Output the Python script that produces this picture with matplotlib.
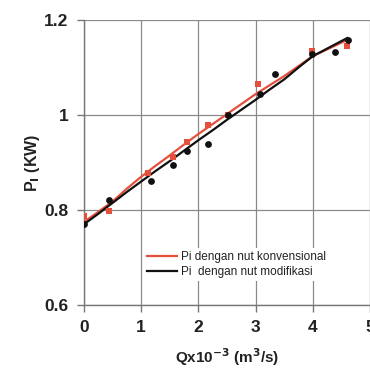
import matplotlib
matplotlib.use("Agg")
import matplotlib.pyplot as plt
from matplotlib.ticker import FixedLocator, FixedFormatter

# measured points (Q x 1e-3 m3/s, Pi kW)
q_konv = [0.0, 0.44, 1.12, 1.56, 1.80, 2.17, 2.51, 3.04, 3.99, 4.59]
p_konv = [0.787, 0.797, 0.877, 0.912, 0.944, 0.980, 1.000, 1.065, 1.135, 1.145]

q_mod = [0.0, 0.44, 1.17, 1.56, 1.80, 2.17, 2.51, 3.07, 3.34, 3.99, 4.38, 4.62]
p_mod = [0.770, 0.820, 0.862, 0.895, 0.925, 0.940, 1.001, 1.044, 1.086, 1.128, 1.132, 1.159]

# trend curves as drawn
q_line = [0.0, 0.25, 0.5, 0.75, 1.0, 1.25, 1.5, 1.75, 2.0, 2.25, 2.5, 2.75,
          3.0, 3.25, 3.5, 3.75, 4.0, 4.3, 4.6]
p_line_konv = [0.775, 0.796, 0.818, 0.845, 0.870, 0.893, 0.915, 0.938, 0.960,
               0.981, 1.002, 1.023, 1.044, 1.063, 1.082, 1.103, 1.124, 1.141, 1.158]
p_line_mod = [0.770, 0.792, 0.815, 0.838, 0.860, 0.882, 0.903, 0.925, 0.947,
              0.968, 0.990, 1.011, 1.032, 1.054, 1.075, 1.100, 1.124, 1.143, 1.162]

x_ticks = [0, 1, 2, 3, 4, 5]
y_ticks = [0.6, 0.8, 1.0, 1.2]
y_tick_labels = ["0.6", "0.8", "1", "1.2"]

red = "#e4503c"
black = "#111111"

plt.rcParams["font.family"] = ["Liberation Sans", "DejaVu Sans"]

fig = plt.figure(figsize=(3.70, 3.71), dpi=100)
ax = fig.add_axes([0.227, 0.178, 0.773, 0.768])

ax.plot(q_line, p_line_konv, color=red, lw=1.6, zorder=3,
        label="Pi dengan nut konvensional")
ax.plot(q_line, p_line_mod, color=black, lw=1.6, zorder=4,
        label="Pi  dengan nut modifikasi")
ax.scatter(q_konv, p_konv, marker="s", s=18, color=red, zorder=5, linewidths=0)
ax.scatter(q_mod, p_mod, marker="o", s=24, color=black, zorder=6, linewidths=0)

ax.set_xlim(0, 5)
ax.set_ylim(0.6, 1.2)
ax.xaxis.set_major_locator(FixedLocator(x_ticks))
ax.yaxis.set_major_locator(FixedLocator(y_ticks))
ax.yaxis.set_major_formatter(FixedFormatter(y_tick_labels))
ax.grid(True, color="#8a8a8a", lw=0.9)
ax.set_axisbelow(True)

for side in ["top", "right"]:
    ax.spines[side].set_visible(False)
for side in ["left", "bottom"]:
    ax.spines[side].set_color("#777777")
    ax.spines[side].set_linewidth(1.0)

ax.tick_params(axis="both", length=5, width=1.0, color="#777777",
               labelsize=12.5, pad=6)
for lab in ax.get_xticklabels() + ax.get_yticklabels():
    lab.set_fontweight("bold")
    lab.set_color("#222222")

ax.set_xlabel(r"Qx10$^{\mathbf{-3}}$ (m$^{\mathbf{3}}$/s)", fontsize=11,
              fontweight="bold", color="#222222", labelpad=8)
ax.set_ylabel(r"P$_{\mathbf{I}}$ (KW)", fontsize=11.5, fontweight="bold",
              color="#222222", labelpad=2)

leg = ax.legend(loc="lower left", bbox_to_anchor=(0.19, 0.065), frameon=True,
                fontsize=8.5, handlelength=2.6, handletextpad=0.3,
                borderpad=0.2, labelspacing=0.3, fancybox=False)
leg.get_frame().set_edgecolor("none")
leg.get_frame().set_facecolor("white")
leg.get_frame().set_alpha(1.0)
for t in leg.get_texts():
    t.set_color("#222222")

fig.savefig("out.png", dpi=100)
